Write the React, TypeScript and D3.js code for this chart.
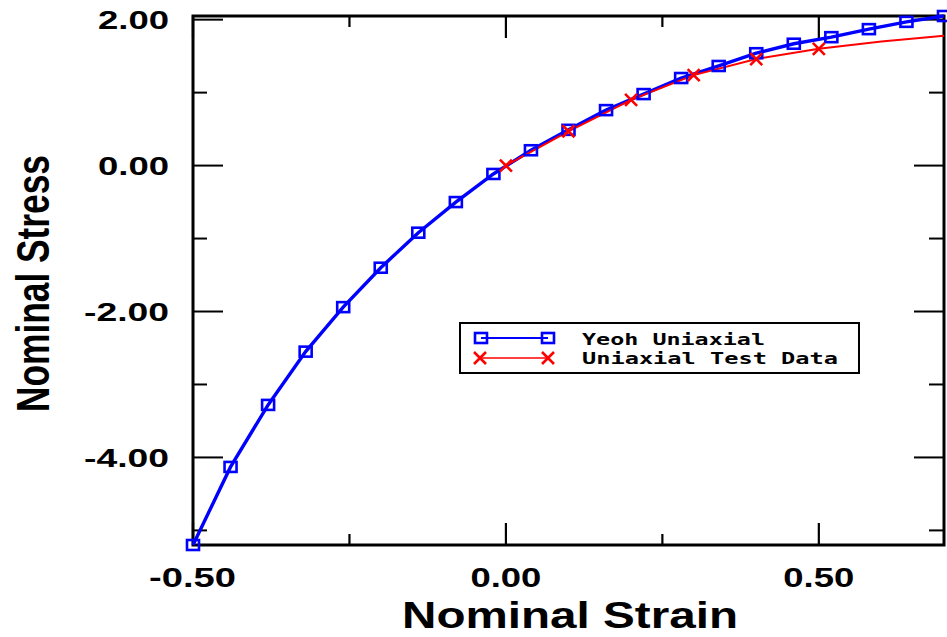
import React from "react";
import * as d3 from "d3";

const yeohStrain = [-0.5, -0.44, -0.38, -0.32, -0.26, -0.2, -0.14, -0.08, -0.02, 0.04, 0.1, 0.16, 0.22, 0.28, 0.34, 0.4, 0.46, 0.52, 0.58, 0.64, 0.7];
const yeohStress = [-5.2, -4.13, -3.28, -2.55, -1.94, -1.4, -0.92, -0.5, -0.115, 0.21, 0.49, 0.76, 0.98, 1.2, 1.365, 1.54, 1.67, 1.76, 1.87, 1.97, 2.05];

const testStrain = [0.0, 0.1, 0.2, 0.3, 0.4, 0.5, 0.6, 0.7];
const testStress = [0.0, 0.47, 0.9, 1.24, 1.46, 1.6, 1.7, 1.78];
const testMarked = [true, true, true, true, true, true, false, false];

const xMajorTicks = [-0.5, 0.0, 0.5];
const xMinorTicks = [-0.25, 0.25];
const yMajorTicks = [-4, -2, 0, 2];
const yMinorTicks = [-5, -3, -1, 1];

const legendLabels = ["Yeoh Uniaxial", "Uniaxial Test Data"];

export default function App() {
  const left = 193, right = 944, top = 16, bottom = 545;
  const x = d3.scaleLinear().domain([-0.5, 0.7]).range([left, right]);
  const y = d3.scaleLinear().domain([-5.2, 2.05]).range([bottom, top]);

  const yeoh = yeohStrain.map((s, i) => [s, yeohStress[i]] as [number, number]);
  const test = testStrain.map((s, i) => [s, testStress[i]] as [number, number]);
  const line = d3.line<[number, number]>().x(d => x(d[0])).y(d => y(d[1]));

  const f2 = d3.format(".2f");
  const fmt = (v: number) => f2(v).replace("\u2212", "-");
  const sq = (cx: number, cy: number, key: any) => (
    <rect key={key} x={cx - 6} y={cy - 5} width={12} height={10} fill="none" stroke="#0000ff" strokeWidth={2.6} />
  );
  const cross = (cx: number, cy: number, key: any) => (
    <path key={key} d={`M${cx - 6},${cy - 6}L${cx + 6},${cy + 6}M${cx - 6},${cy + 6}L${cx + 6},${cy - 6}`} stroke="#ff0000" strokeWidth={2.6} fill="none" />
  );

  return (
    <svg width={947} height={637} style={{ position: "absolute", left: 0, top: 0, background: "#fff" }}>
      <rect x={0} y={0} width={947} height={637} fill="#fff" />
      {yMajorTicks.map(t => (
        <g key={"ym" + t}>
          <line x1={left} x2={left + 30} y1={y(t)} y2={y(t)} stroke="#000" strokeWidth={2} />
          <line x1={right} x2={right - 30} y1={y(t)} y2={y(t)} stroke="#000" strokeWidth={2} />
        </g>
      ))}
      {yMinorTicks.map(t => (
        <g key={"yn" + t}>
          <line x1={left} x2={left + 14} y1={y(t)} y2={y(t)} stroke="#000" strokeWidth={2} />
          <line x1={right} x2={right - 15} y1={y(t)} y2={y(t)} stroke="#000" strokeWidth={2} />
        </g>
      ))}
      {xMajorTicks.map(t => (
        <g key={"xm" + t}>
          <line x1={x(t)} x2={x(t)} y1={bottom} y2={bottom - 22} stroke="#000" strokeWidth={2.2} />
          <line x1={x(t)} x2={x(t)} y1={top} y2={top + 22} stroke="#000" strokeWidth={2.2} />
        </g>
      ))}
      {xMinorTicks.map(t => (
        <g key={"xn" + t}>
          <line x1={x(t)} x2={x(t)} y1={bottom} y2={bottom - 11} stroke="#000" strokeWidth={2.2} />
          <line x1={x(t)} x2={x(t)} y1={top} y2={top + 11} stroke="#000" strokeWidth={2.2} />
        </g>
      ))}
      <rect x={left} y={top} width={right - left} height={bottom - top} fill="none" stroke="#000" strokeWidth={3} />

      {yMajorTicks.map(t => {
        const s = fmt(t);
        return (
          <text key={"yl" + t} x={169} y={y(t) + 9.5} textAnchor="end" fontFamily="Liberation Sans, Arial, sans-serif" fontWeight="bold" fontSize={26}
            textLength={s.length === 4 ? 71 : 85} lengthAdjust="spacingAndGlyphs" fill="#000">{s}</text>
        );
      })}
      {xMajorTicks.map(t => {
        const s = fmt(t);
        return (
          <text key={"xl" + t} x={x(t) + (t < 0 ? -0.5 : 0)} y={587} textAnchor="middle" fontFamily="Liberation Sans, Arial, sans-serif" fontWeight="bold" fontSize={27}
            textLength={s.length === 4 ? 71 : 87} lengthAdjust="spacingAndGlyphs" fill="#000">{s}</text>
        );
      })}

      <text x={570} y={628} textAnchor="middle" fontFamily="Liberation Sans, Arial, sans-serif" fontWeight="bold" fontSize={36}
        textLength={336} lengthAdjust="spacingAndGlyphs" fill="#000">Nominal Strain</text>
      <text transform={`translate(49,283.5) rotate(-90)`} textAnchor="middle" fontFamily="Liberation Sans, Arial, sans-serif" fontWeight="bold" fontSize={46}
        textLength={257} lengthAdjust="spacingAndGlyphs" fill="#000">Nominal Stress</text>

      <path d={line(yeoh) || ""} fill="none" stroke="#0000ff" strokeWidth={3.4} />
      <path d={line(test) || ""} fill="none" stroke="#ff0000" strokeWidth={2} />
      {yeoh.map((d, i) => sq(x(d[0]), y(d[1]), "s" + i))}
      {test.map((d, i) => testMarked[i] ? cross(x(d[0]), y(d[1]), "c" + i) : null)}

      <rect x={460} y={323} width={399} height={50} fill="#fff" stroke="#000" strokeWidth={2} />
      <line x1={481} x2={548} y1={338} y2={338} stroke="#0000ff" strokeWidth={2} />
      {sq(481, 338, "ls1")}
      {sq(548, 338, "ls2")}
      <line x1={480} x2={548} y1={358} y2={358} stroke="#ff0000" strokeWidth={1.5} />
      {cross(480, 358, "lc1")}
      {cross(548, 358, "lc2")}
      <text x={582} y={345} fontFamily="DejaVu Sans Mono, monospace" fontWeight="bold" fontSize={15} textLength={183} lengthAdjust="spacingAndGlyphs" fill="#000">{legendLabels[0]}</text>
      <text x={582} y={364} fontFamily="DejaVu Sans Mono, monospace" fontWeight="bold" fontSize={15} textLength={256} lengthAdjust="spacingAndGlyphs" fill="#000">{legendLabels[1]}</text>
    </svg>
  );
}
